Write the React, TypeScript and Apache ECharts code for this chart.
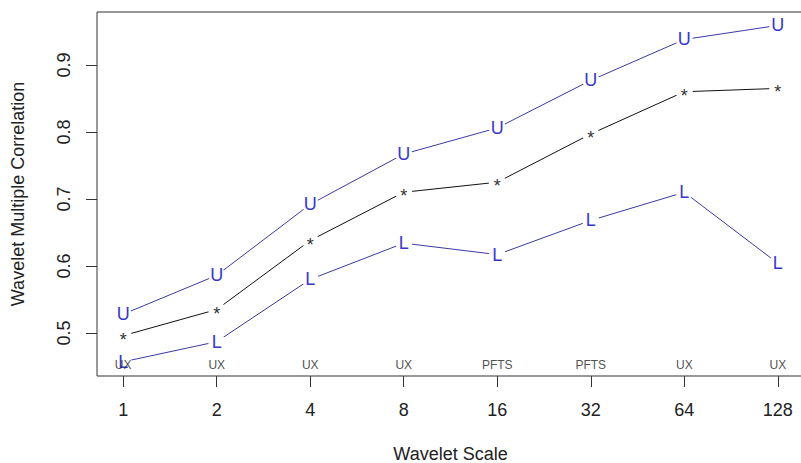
import React, { useEffect, useRef } from "react";
import * as echarts from "echarts";

const scales = ["1", "2", "4", "8", "16", "32", "64", "128"];
const estimate = [0.496, 0.535, 0.638, 0.71, 0.725, 0.797, 0.86, 0.865];
const upper = [0.528, 0.586, 0.692, 0.767, 0.806, 0.877, 0.938, 0.959];
const lower = [0.457, 0.487, 0.58, 0.634, 0.617, 0.668, 0.71, 0.604];
const leaders = ["UX", "UX", "UX", "UX", "PFTS", "PFTS", "UX", "UX"];
const yTicks = [0.5, 0.6, 0.7, 0.8, 0.9];
const leaderY = 0.452;

const FONT = "'Liberation Sans', Arial, sans-serif";
const BLUE_TEXT = "#3636cc";
const BLUE_LINE = "#3a3aa6";

export default function App() {
  const ref = useRef<HTMLDivElement>(null);
  useEffect(() => {
    if (!ref.current) return;
    const chart = echarts.init(ref.current, null, { renderer: "svg" });
    const idx = scales.map((_, i) => i);
    const mk = (vals: number[]) => vals.map((v, i) => [i, v]);
    const pointSeries = (
      name: string,
      vals: number[],
      ch: string,
      lineColor: string,
      textColor: string,
      offsetY: number
    ) => ({
      type: "line",
      name,
      data: mk(vals),
      symbol: "circle",
      symbolSize: 17,
      itemStyle: { color: "#ffffff", borderWidth: 0 },
      lineStyle: { color: lineColor, width: 1 },
      label: {
        show: true,
        position: "inside",
        formatter: () => ch,
        color: textColor,
        fontFamily: FONT,
        fontSize: 18,
        offset: [0, offsetY],
      },
      emphasis: { disabled: true },
      clip: false,
      z: 2,
    });
    chart.setOption({
      animation: false,
      grid: {
        left: 97,
        top: 12,
        width: 707,
        height: 364,
        containLabel: false,
        outerBoundsMode: "none",
        show: true,
        borderColor: "#333",
        borderWidth: 1,
        backgroundColor: "transparent",
      },
      xAxis: {
        type: "value",
        min: -0.28,
        max: 7.28,
        axisLine: { show: false, onZero: false },
        splitLine: { show: false },
        axisTick: {
          show: true,
          customValues: idx,
          length: 11,
          lineStyle: { color: "#333", width: 1 },
        },
        axisLabel: {
          customValues: idx,
          formatter: (v: number) => scales[Math.round(v)] ?? "",
          fontFamily: FONT,
          fontSize: 18,
          color: "#222",
          margin: 25,
        },
        name: "Wavelet Scale",
        nameLocation: "middle",
        nameGap: 69,
        nameMoveOverlap: false,
        nameTextStyle: { fontFamily: FONT, fontSize: 18, color: "#222" },
      },
      yAxis: {
        type: "value",
        min: 0.4358,
        max: 0.979,
        axisLine: { show: false, onZero: false },
        splitLine: { show: false },
        axisTick: {
          show: true,
          customValues: yTicks,
          length: 11,
          lineStyle: { color: "#333", width: 1 },
        },
        axisLabel: {
          customValues: yTicks,
          formatter: (v: number) => v.toFixed(1),
          rotate: 90,
          fontFamily: FONT,
          fontSize: 18,
          color: "#222",
          margin: 33,
          align: "center",
          verticalAlign: "middle",
        },
        name: "Wavelet Multiple Correlation",
        nameLocation: "middle",
        nameGap: 70,
        nameMoveOverlap: false,
        nameRotate: 90,
        nameTextStyle: { fontFamily: FONT, fontSize: 18, color: "#222" },
      },
      series: [
        pointSeries("upper", upper, "U", BLUE_LINE, BLUE_TEXT, 0),
        pointSeries("estimate", estimate, "*", "#111", "#333", 4),
        pointSeries("lower", lower, "L", BLUE_LINE, BLUE_TEXT, 0),
        {
          type: "scatter",
          name: "leaders",
          data: leaders.map((_, i) => [i, leaderY]),
          symbol: "circle",
          symbolSize: 1,
          itemStyle: { color: "rgba(0,0,0,0)" },
          label: {
            show: true,
            position: "inside",
            formatter: (p: any) => leaders[p.dataIndex],
            color: "#222",
            fontFamily: FONT,
            fontSize: 12,
          },
          emphasis: { disabled: true },
          z: 5,
        },
      ],
    });
    return () => chart.dispose();
  }, []);
  return (
    <div
      ref={ref}
      style={{ position: "absolute", left: 0, top: 0, width: 801, height: 463 }}
    />
  );
}
